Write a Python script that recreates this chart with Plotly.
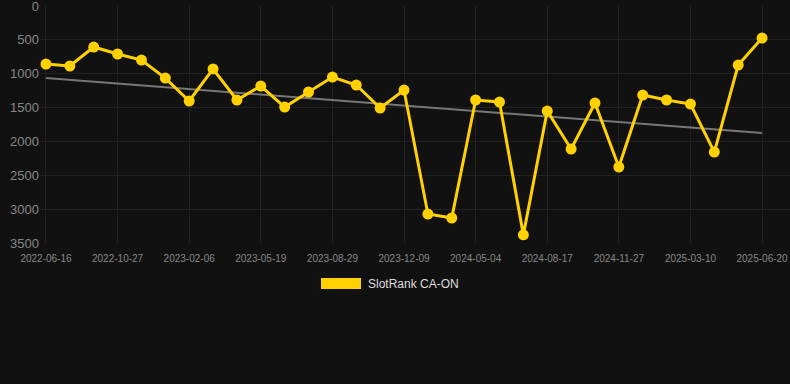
import plotly.graph_objects as go

dates = ["2022-06-16", "2022-07-30", "2022-09-12", "2022-10-27", "2022-11-29", "2023-01-03",
         "2023-02-06", "2023-03-12", "2023-04-15", "2023-05-19", "2023-06-22", "2023-07-26",
         "2023-08-29", "2023-10-01", "2023-11-05", "2023-12-09", "2024-01-28", "2024-03-17",
         "2024-05-04", "2024-06-08", "2024-07-13", "2024-08-17", "2024-09-19", "2024-10-24",
         "2024-11-27", "2024-12-31", "2025-02-04", "2025-03-10", "2025-04-13", "2025-05-17",
         "2025-06-20"]
ranks = [857, 886, 606, 709, 798, 1064, 1403, 930, 1388, 1182, 1492, 1270, 1049, 1167, 1507,
         1241, 3072, 3131, 1388, 1418, 3380, 1551, 2112, 1433, 2378, 1315, 1388, 1448, 2157,
         872, 473]
trend_dates = [dates[0], dates[-1]]
trend_values = [1064, 1876]
tick_labels = dates[::3]
series_name = "SlotRank CA-ON"

yellow = "#FFD100"
fig = go.Figure()
fig.add_trace(go.Scatter(x=trend_dates, y=trend_values, mode="lines",
                         line=dict(color="#777777", width=2), showlegend=False, hoverinfo="skip"))
fig.add_trace(go.Scatter(x=dates, y=ranks, mode="lines+markers", name=series_name,
                         line=dict(color=yellow, width=3), marker=dict(color=yellow, size=11),
                         showlegend=False, cliponaxis=False))

fig.add_shape(type="rect", xref="paper", yref="paper", x0=(321-40)/750, x1=(361-40)/750,
              y0=(243-289)/237, y1=(243-278)/237, fillcolor=yellow, line_width=0)
fig.add_annotation(xref="paper", yref="paper", x=(366-40)/750, y=(243-284)/237,
                   text=series_name, showarrow=False, xanchor="left", yanchor="middle",
                   font=dict(family="Liberation Sans, Arial", size=12, color="#dddddd"))

fig.update_layout(
    width=790, height=384,
    margin=dict(l=40, r=0, t=6, b=141),
    paper_bgcolor="#111111", plot_bgcolor="#111111",
    xaxis=dict(type="category", categoryorder="array", categoryarray=dates,
               range=[-0.25, 31.17], tickmode="array", tickvals=tick_labels, ticktext=tick_labels,
               tickfont=dict(family="Liberation Sans, Arial", size=10, color="#888888"),
               showgrid=True, gridcolor="#222222", zeroline=False, showline=False, ticks="",
               ticklabelstandoff=8, ticklabeloverflow="allow"),
    yaxis=dict(range=[3500, 0], tickvals=[0, 500, 1000, 1500, 2000, 2500, 3000, 3500],
               tickfont=dict(family="Liberation Sans, Arial", size=13, color="#888888"),
               showgrid=True, gridcolor="#222222", zeroline=False, showline=False, ticks="",
               ticklabeloverflow="allow"),
    showlegend=False,
)
fig.write_html("out.html", config={"displayModeBar": False},
               post_script="document.body.style.margin='0';document.body.style.background='#111111';")
